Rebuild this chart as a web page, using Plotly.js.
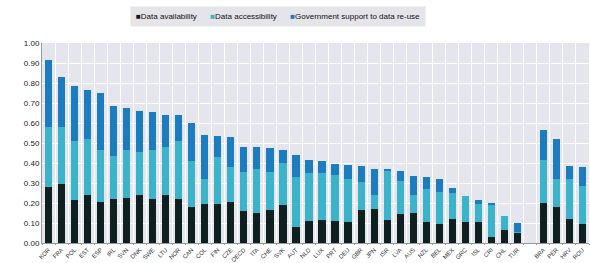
<!DOCTYPE html>
<html><head><meta charset="utf-8">
<script src="https://cdn.plot.ly/plotly-3.0.1.min.js"></script>
<style>html,body{margin:0;padding:0;background:#fff}#c{width:590px;height:263px}</style>
</head><body><div id="c"></div>
<script>
const countries = ["KOR","FRA","POL","EST","ESP","IRL","SVN","DNK","SWE","LTU","NOR","CAN","COL","FIN","CZE","OECD","ITA","CHE","SVK","AUT","NLD","LUX","PRT","DEU","GBR","JPN","ISR","LVA","AUS","NZL","BEL","MEX","GRC","ISL","CRI","CHL","TUR"," ","BRA","PER","HRV","ROU"];
const dataAvailability = [0.28,0.297,0.213,0.238,0.207,0.22,0.225,0.242,0.222,0.238,0.218,0.182,0.197,0.197,0.205,0.162,0.148,0.163,0.188,0.08,0.108,0.113,0.11,0.107,0.165,0.17,0.117,0.145,0.15,0.103,0.095,0.122,0.103,0.105,0.028,0.063,0.05,null,0.202,0.178,0.12,0.093];
const dataAccessibility = [0.298,0.281,0.299,0.282,0.256,0.213,0.242,0.211,0.241,0.242,0.294,0.23,0.123,0.233,0.173,0.193,0.222,0.192,0.212,0.248,0.242,0.237,0.228,0.211,0.14,0.072,0.243,0.163,0.088,0.169,0.162,0.128,0.132,0.088,0.16,0.074,0.005,null,0.211,0.144,0.2,0.194];
const govSupport = [0.335,0.25,0.275,0.243,0.285,0.252,0.206,0.209,0.194,0.16,0.128,0.188,0.222,0.107,0.15,0.123,0.108,0.12,0.065,0.11,0.067,0.058,0.059,0.074,0.078,0.128,0.01,0.05,0.095,0.06,0.065,0.023,0.002,0.024,0.012,0.0,0.045,null,0.15,0.2,0.067,0.093];
const seriesNames = ["Data availability","Data accessibility","Government support to data re-use"];
const seriesColors = ["#0f2020","#3bb3cb","#1b7cbf"];
const seriesValues = [dataAvailability, dataAccessibility, govSupport];

const traces = seriesNames.map((n,i)=>({type:"bar", x:countries, y:seriesValues[i], name:n,
  marker:{color:seriesColors[i]}, hoverinfo:"skip", showlegend:false}));

const legendText = seriesNames.map((n,i)=>`<span style="color:${seriesColors[i]}">■</span>${n}`).join("&nbsp;&nbsp;&nbsp;&nbsp;&nbsp;&nbsp;");

const layout = {
  width:590, height:263,
  margin:{l:42, r:1, t:43, b:20},
  barmode:"stack", bargap:0.45,
  paper_bgcolor:"#ffffff", plot_bgcolor:"#e5e5ed",
  font:{family:"Liberation Sans, Arial, sans-serif", size:8, color:"#222"},
  showlegend:false,
  annotations:[{xref:"paper", yref:"paper", x:(278-42)/547, y:1 + (43-16)/200, xanchor:"center", yanchor:"middle",
    text:legendText, showarrow:false, font:{size:8, color:"#111"}, bgcolor:"#e4e4e9",
    borderpad:5, align:"center"}],
  xaxis:{type:"category", categoryorder:"array", categoryarray:countries,
         tickangle:-45, tickfont:{size:6, color:"#333"}, tickson:"boundaries",
         showgrid:true, gridcolor:"#ffffff", gridwidth:1,
         ticks:"outside", ticklen:1, tickcolor:"#999",
         showline:true, linecolor:"#999", linewidth:1, fixedrange:true},
  yaxis:{range:[0,1.0], dtick:0.1, tickformat:".2f", tickfont:{size:8, color:"#222"},
         showgrid:true, gridcolor:"#ffffff", gridwidth:1, zeroline:false,
         showline:true, linecolor:"#999", linewidth:1, fixedrange:true}
};
Plotly.newPlot("c", traces, layout, {displayModeBar:false, staticPlot:true});
</script></body></html>
